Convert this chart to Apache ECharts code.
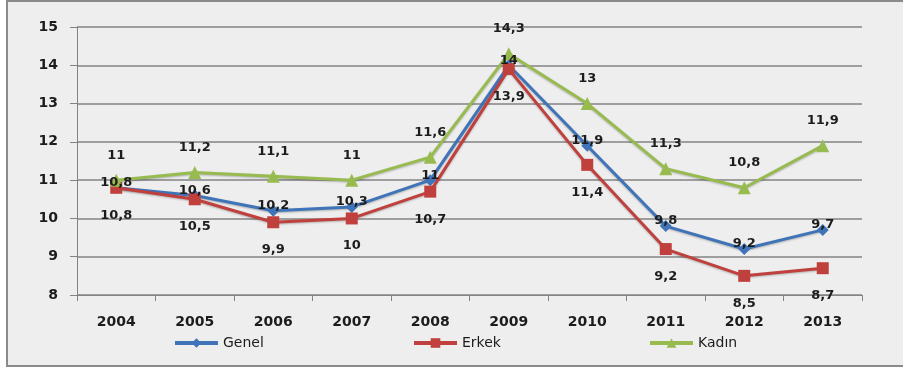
<!DOCTYPE html>
<html>
<head>
<meta charset="utf-8">
<script src="https://cdn.jsdelivr.net/npm/echarts@6/dist/echarts.min.js"></script>
<style>
  html, body { margin: 0; padding: 0; background: #fff; }
  #chart { width: 903px; height: 371px; }
</style>
</head>
<body>
<div id="chart"></div>
<script>
const years = ['2004', '2005', '2006', '2007', '2008', '2009', '2010', '2011', '2012', '2013'];
const genel = [10.8, 10.6, 10.2, 10.3, 11, 14, 11.9, 9.8, 9.2, 9.7];
const erkek = [10.8, 10.5, 9.9, 10, 10.7, 13.9, 11.4, 9.2, 8.5, 8.7];
const kadin = [11, 11.2, 11.1, 11, 11.6, 14.3, 13, 11.3, 10.8, 11.9];
const yTicks = { min: 8, max: 15, interval: 1 };

const FONT = 'DejaVu Sans';
const TXT = '#1c1c1c';
const GRIDC = '#838383';

const fmt = (p) => String(p.value).replace('.', ',');

function lineSeries(name, data, color, symbol, size, label) {
  return {
    name: name,
    type: 'line',
    data: data,
    symbol: symbol,
    symbolSize: size,
    lineStyle: { color: color, width: 3, shadowColor: 'rgba(0,0,0,0.25)', shadowBlur: 2, shadowOffsetY: 1 },
    itemStyle: { color: color },
    label: Object.assign({
      show: true,
      formatter: fmt,
      color: TXT,
      fontFamily: FONT,
      fontWeight: 'bold',
      fontSize: 13
    }, label),
    emphasis: { disabled: true },
    animation: false
  };
}

const chart = echarts.init(document.getElementById('chart'));

const legendBase = {
  itemWidth: 43,
  itemHeight: 12,
  top: 331,
  textStyle: { color: TXT, fontFamily: FONT, fontSize: 14 },
  lineStyle: { width: 4 },
  itemGap: 2
};

chart.setOption({
  backgroundColor: '#fff',
  animation: false,
  graphic: [{
    type: 'rect',
    z: -10,
    shape: { x: 7, y: 1, width: 905, height: 365 },
    style: { fill: '#eeeeee', stroke: '#8a8a8a', lineWidth: 2 }
  }],
  grid: { left: 77, right: 41, top: 27, bottom: 76 },
  legend: [
    Object.assign({ data: ['Genel'], left: 168 }, legendBase),
    Object.assign({ data: ['Erkek'], left: 407 }, legendBase),
    Object.assign({ data: ['Kadın'], left: 643 }, legendBase)
  ],
  xAxis: {
    type: 'category',
    data: years,
    boundaryGap: true,
    axisLine: { lineStyle: { color: GRIDC, width: 1 } },
    axisTick: { show: true, length: 6, lineStyle: { color: GRIDC } },
    axisLabel: { color: TXT, fontFamily: FONT, fontWeight: 'bold', fontSize: 14, margin: 20 }
  },
  yAxis: {
    type: 'value',
    min: yTicks.min,
    max: yTicks.max,
    interval: yTicks.interval,
    axisLine: { show: true, lineStyle: { color: GRIDC, width: 1 } },
    axisTick: { show: true, length: 7, lineStyle: { color: GRIDC } },
    axisLabel: { color: TXT, fontFamily: FONT, fontWeight: 'bold', fontSize: 14, margin: 19 },
    splitLine: { lineStyle: { color: GRIDC, width: 1.5 } }
  },
  series: [
    lineSeries('Genel', genel, '#3f74b8', 'diamond', 12, { position: 'inside', offset: [0, -5] }),
    lineSeries('Erkek', erkek, '#c0403d', 'rect', 12, { position: 'bottom', distance: 15 }),
    lineSeries('Kadın', kadin, '#98bb50', 'triangle', 13, { position: 'top', distance: 12 })
  ]
});
</script>
</body>
</html>
